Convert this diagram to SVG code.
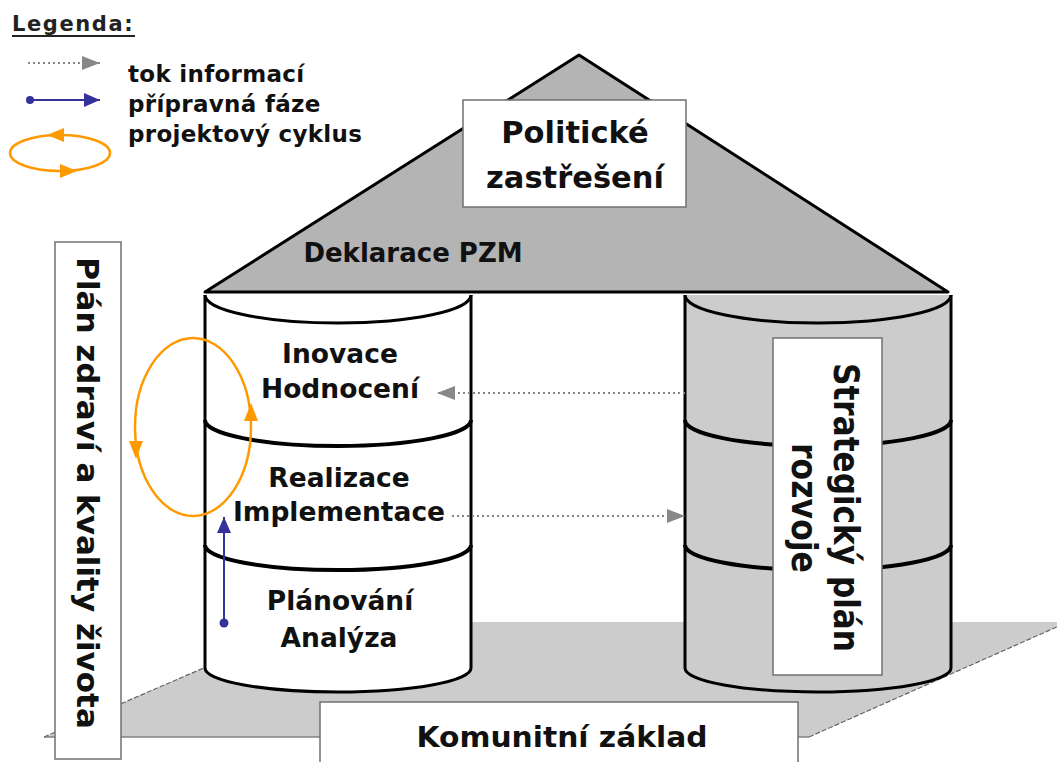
<svg xmlns="http://www.w3.org/2000/svg" width="1057" height="762" viewBox="0 0 1057 762">
<style>
  text { font-family: "DejaVu Sans", "Liberation Sans", sans-serif; font-weight: bold; fill: #111; }
  .leg { font-size: 23px; letter-spacing: 0.3px; }
  .cyl { font-size: 26.5px; text-anchor: middle; }
  .box { fill: #fff; stroke: #707070; stroke-width: 1.5; }
  .edge { fill: none; stroke: #000; stroke-width: 3; }
  .div { fill: none; stroke: #000; stroke-width: 4; }
  .dot { fill: none; stroke: #888; stroke-width: 2; stroke-dasharray: 2 3; }
  .orange { fill: none; stroke: #ff9900; stroke-width: 2.5; }
  .blue { fill: none; stroke: #333399; stroke-width: 2; }
</style>
<defs>
  <marker id="grayHead" markerUnits="userSpaceOnUse" markerWidth="18" markerHeight="14" refX="18" refY="7" orient="auto">
    <path d="M0,0 L18,7 L0,14 Z" fill="#888"/>
  </marker>
  <marker id="blueHead" markerUnits="userSpaceOnUse" markerWidth="16" markerHeight="14" refX="16" refY="7" orient="auto">
    <path d="M0,0 L16,7 L0,14 Z" fill="#333399"/>
  </marker>
</defs>

<!-- Legend -->
<g id="legend">
  <text x="12" y="31" style="font-size:21px;letter-spacing:1.6px;fill:#222">Legenda:</text>
  <line x1="12" y1="36" x2="135" y2="36" stroke="#222" stroke-width="2"/>
  <line class="dot" x1="28" y1="63" x2="100" y2="63" marker-end="url(#grayHead)"/>
  <circle cx="30" cy="100" r="4" fill="#333399"/>
  <line class="blue" x1="30" y1="100" x2="100" y2="100" marker-end="url(#blueHead)"/>
  <ellipse class="orange" cx="60" cy="153" rx="50" ry="18"/>
  <polygon points="47,135 64,128 64,142" fill="#ff9900"/>
  <polygon points="77,171 60,164 60,178" fill="#ff9900"/>
  <text class="leg" x="128" y="82">tok informací</text>
  <text class="leg" x="128" y="112">přípravná fáze</text>
  <text class="leg" x="128" y="142">projektový cyklus</text>
</g>

<!-- Platform -->
<g id="platform">
  <polygon points="44,737 310,622 1068,622 809,737" fill="#cccccc"/>
  <line x1="44" y1="737" x2="809" y2="737" stroke="#808080" stroke-width="1.5"/>
  <line x1="44" y1="737" x2="310" y2="622" stroke="#666" stroke-width="1.2" stroke-dasharray="5 2"/>
  <line x1="809" y1="737" x2="1068" y2="622" stroke="#666" stroke-width="1.2" stroke-dasharray="5 2"/>
</g>

<!-- Left vertical box -->
<g id="plan-zdravi">
  <rect class="box" x="55" y="242" width="66" height="517"/>
  <text transform="translate(77,493) rotate(90)" x="0" y="0" text-anchor="middle" font-size="31">Plán zdraví a kvality života</text>
</g>

<!-- Left cylinder -->
<g id="left-pillar">
  <path d="M205,295 L205,668 A133,24 0 0 0 471,668 L471,295 Z" fill="#fff"/>
  <path class="edge" d="M205,295 L205,668 A133,24 0 0 0 471,668 L471,295"/>
  <path class="edge" d="M205,295 A133,28 0 0 0 471,295"/>
  <path class="div" d="M205,420 A133,26 0 0 0 471,420"/>
  <path class="div" d="M205,545 A133,25 0 0 0 471,545"/>
  <text class="cyl" x="340" y="363">Inovace</text>
  <text class="cyl" x="340" y="398">Hodnocení</text>
  <text class="cyl" x="339" y="487">Realizace</text>
  <text class="cyl" x="339" y="521">Implementace</text>
  <text class="cyl" x="340" y="610">Plánování</text>
  <text class="cyl" x="339" y="647">Analýza</text>
</g>

<!-- Right cylinder -->
<g id="right-pillar">
  <path d="M685,295 L685,668 A133,24 0 0 0 951,668 L951,295 Z" fill="#cccccc"/>
  <path class="edge" d="M685,295 L685,668 A133,24 0 0 0 951,668 L951,295"/>
  <path class="edge" d="M685,295 A133,28 0 0 0 951,295"/>
  <path class="div" d="M685,420 A133,26 0 0 0 951,420"/>
  <path class="div" d="M685,545 A133,25 0 0 0 951,545"/>
</g>
<g id="strategicky-plan">
  <rect class="box" x="773" y="338" width="109" height="337"/>
  <text transform="translate(834,507.5) rotate(90)" x="0" y="0" text-anchor="middle" font-size="35" textLength="289" lengthAdjust="spacingAndGlyphs">Strategický plán</text>
  <text transform="translate(792,508) rotate(90)" x="0" y="0" text-anchor="middle" font-size="35" textLength="130" lengthAdjust="spacingAndGlyphs">rozvoje</text>
</g>

<!-- Roof -->
<g id="roof">
  <polygon points="205,292 579,55 948,292" fill="#b4b4b4" stroke="#000" stroke-width="3" stroke-linejoin="round"/>
  <text x="413" y="262" text-anchor="middle" font-size="26">Deklarace PZM</text>
</g>
<g id="politicke-zastreseni">
  <rect class="box" x="463" y="100" width="223" height="107"/>
  <text x="575" y="143" text-anchor="middle" font-size="30.5">Politické</text>
  <text x="575" y="188" text-anchor="middle" font-size="30.5">zastřešení</text>
</g>

<!-- Community base -->
<g id="komunitni-zaklad">
  <rect class="box" x="320" y="702" width="478" height="70"/>
  <text x="562" y="747" text-anchor="middle" font-size="29" textLength="291" lengthAdjust="spacingAndGlyphs">Komunitní základ</text>
</g>

<!-- Connectors -->
<g id="connectors">
  <line class="dot" x1="685" y1="393" x2="437" y2="393" marker-end="url(#grayHead)"/>
  <line class="dot" x1="452" y1="516" x2="685" y2="516" marker-end="url(#grayHead)"/>
  <circle cx="224" cy="623" r="4.5" fill="#333399"/>
  <line class="blue" x1="224" y1="623" x2="224" y2="517" marker-end="url(#blueHead)"/>
  <ellipse class="orange" cx="193" cy="427" rx="58" ry="89"/>
  <polygon points="251,403 244,421 258,421" fill="#ff9900"/>
  <polygon points="136,459 129,441 143,441" fill="#ff9900"/>
</g>
</svg>
